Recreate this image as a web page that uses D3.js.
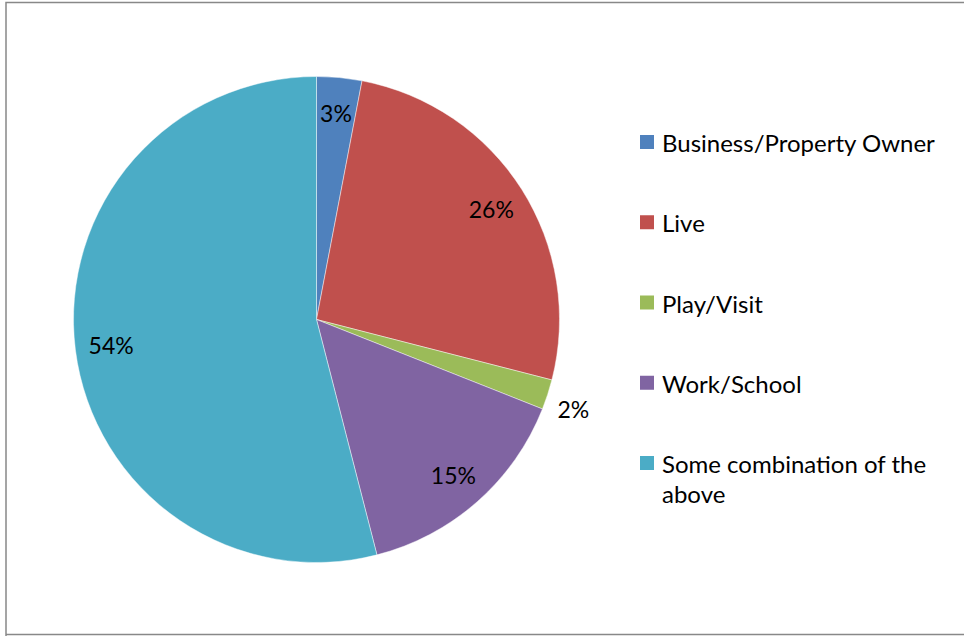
<!DOCTYPE html>
<html>
<head>
<meta charset="utf-8">
<script src="https://cdn.jsdelivr.net/npm/d3@7"></script>
<style>
  html, body { margin: 0; padding: 0; background: #fff; }
  svg { display: block; font-family: Lato, "Open Sans", sans-serif; }
</style>
</head>
<body>
<svg id="chart" width="964" height="636"></svg>
<script>
// Reasons respondents are connected to the area (percent of responses)
const categories = ["Business/Property Owner", "Live", "Play/Visit", "Work/School", "Some combination of the above"];
const shares = [3, 26, 2, 15, 54];
const colors = ["#4F81BD", "#C0504D", "#9BBB59", "#8064A2", "#4BACC6"];

const svg = d3.select("#chart");

// chart frame
svg.append("path")
  .attr("d", "M6,636 V2.5 H964 M6,634.5 H964")
  .attr("fill", "none")
  .attr("stroke", "#888")
  .attr("stroke-width", 1.5);

const cx = 316.5, cy = 319.5, R = 243;
const rows = categories.map((c, i) => ({ name: c, value: shares[i], color: colors[i] }));

const pie = d3.pie().value(d => d.value).sort(null);
const arc = d3.arc().innerRadius(0).outerRadius(R);
const arcs = pie(rows);

const g = svg.append("g").attr("transform", `translate(${cx},${cy})`);

g.selectAll("path.slice")
  .data(arcs)
  .join("path")
  .attr("class", "slice")
  .attr("d", arc)
  .attr("fill", d => d.data.color)
  .attr("stroke", "#fff")
  .attr("stroke-opacity", 0.6)
  .attr("stroke-width", 0.75);

// percentage labels: inside the slice, small slices pushed outside the rim
const inLabel = d3.arc().innerRadius(207).outerRadius(207);
const outLabel = d3.arc().innerRadius(270).outerRadius(270);
const fmt = d => d3.format(".0f")(d) + "%";

g.selectAll("text.pct")
  .data(arcs)
  .join("text")
  .attr("class", "pct")
  .attr("transform", d => {
    const a = d.data.value < 3 ? outLabel : inLabel;
    const [x, y] = a.centroid(d);
    return `translate(${x},${y + (d.data.value < 3 ? 6 : 0)})`;
  })
  .attr("text-anchor", "middle")
  .attr("dominant-baseline", "central")
  .attr("font-size", 23)
  .attr("fill", "#000")
  .text(d => fmt(d.data.value));

// legend
const legend = svg.append("g").attr("transform", "translate(640,0)");
const rowY = d3.scalePoint().domain(categories).range([142, 463]);

const item = legend.selectAll("g.item")
  .data(rows)
  .join("g")
  .attr("class", "item")
  .attr("transform", d => `translate(0,${rowY(d.name)})`);

item.append("rect")
  .attr("x", 0).attr("y", -7)
  .attr("width", 14).attr("height", 14)
  .attr("fill", d => d.color);

const wrapAt = 295;
item.each(function(d) {
  const t = d3.select(this).append("text")
    .attr("x", 22)
    .attr("dominant-baseline", "central")
    .attr("font-size", 24)
    .attr("fill", "#000");
  const words = d.name.split(" ");
  let line = [], tspan = t.append("tspan").attr("x", 22).attr("y", 0), lineNo = 0;
  for (const w of words) {
    line.push(w);
    tspan.text(line.join(" "));
    if (tspan.node().getComputedTextLength() > wrapAt && line.length > 1) {
      line.pop();
      tspan.text(line.join(" "));
      line = [w];
      lineNo++;
      tspan = t.append("tspan").attr("x", 22).attr("y", lineNo * 30).text(w);
    }
  }
});
</script>
</body>
</html>
